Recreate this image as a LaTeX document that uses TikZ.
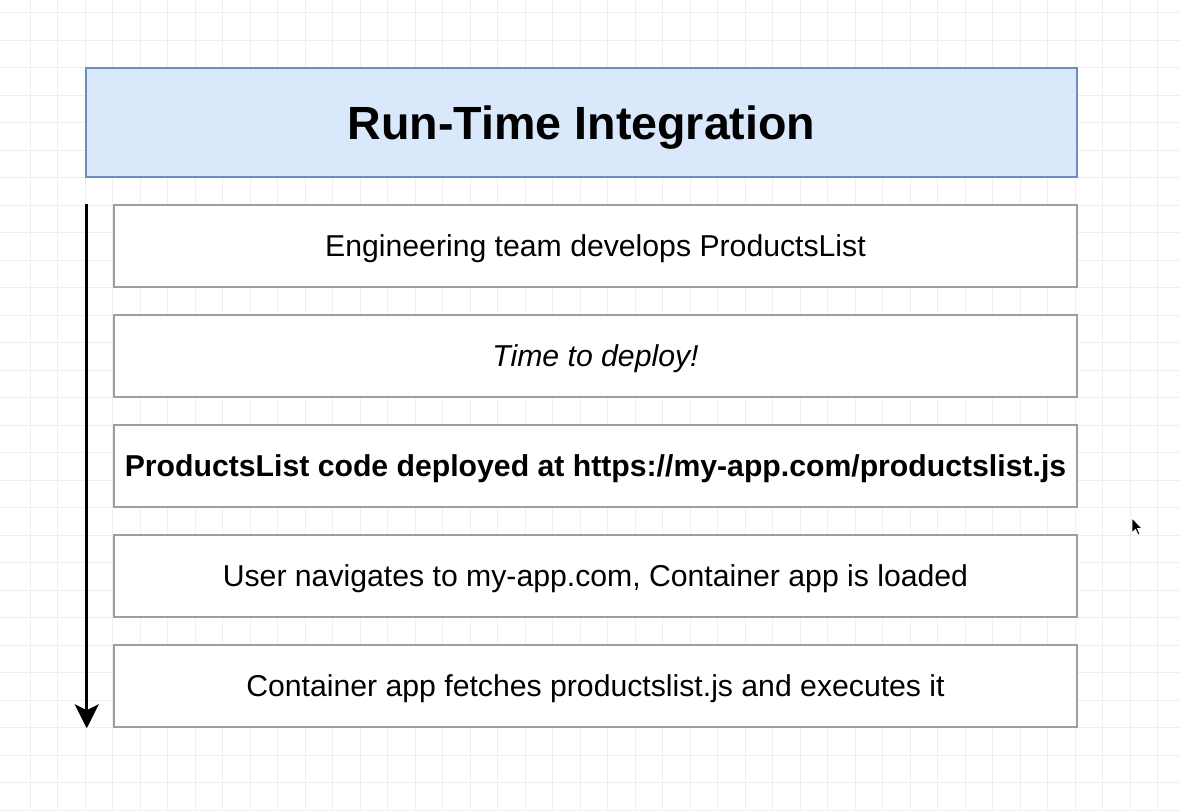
\documentclass[tikz,border=0pt]{standalone}
\usepackage{fontspec}
\setmainfont{Liberation Sans}
\usepackage{xcolor}
\usetikzlibrary{arrows.meta,positioning}
\definecolor{titlefill}{HTML}{DAE8FC}
\definecolor{titledraw}{HTML}{6C8EBF}
\definecolor{boxdraw}{HTML}{9E9E9E}
\definecolor{gridline}{HTML}{EEEEEE}
\tikzstyle{titre}=[draw=titledraw,fill=titlefill,line width=2.5pt,minimum width=991pt,minimum height=109pt,inner sep=0pt,text height=33.4pt,text depth=0pt,font=\fontsize{46.6}{52}\selectfont\bfseries]
\tikzstyle{etape}=[draw=boxdraw,fill=white,line width=2.5pt,minimum width=963pt,minimum height=82pt,inner sep=0pt,text height=21.6pt,text depth=0pt,font=\fontsize{30.2}{34}\selectfont]
\begin{document}
\begin{tikzpicture}[x=1pt,y=-1pt]
\useasboundingbox[fill=white] (0,0) rectangle (1179,811);
% background grid
\foreach \k in {0,...,42} \draw[gridline,line width=1pt] (30+27.5*\k,0) -- (30+27.5*\k,811);
\foreach \k in {-1,...,28} \draw[gridline,line width=1pt] (0,40+27.5*\k) -- (1179,40+27.5*\k);

\node[titre] (title) at (581.5,122.5) {Run-Time Integration};

\node[etape] (s1) at (595.5,246) {Engineering team develops ProductsList};
\node[etape,below=25.5pt of s1] (s2) {\itshape Time to deploy!};
\node[etape,below=25.5pt of s2] (s3) {\bfseries ProductsList code deployed at https://my-app.com/productslist.js};
\node[etape,below=25.5pt of s3] (s4) {User navigates to my-app.com, Container app is loaded};
\node[etape,below=25.5pt of s4] (s5) {Container app fetches productslist.js and executes it};

% time arrow
\coordinate[left=26pt of s1.north west] (t0);
\coordinate[left=26pt of s5.south west] (t1);
\draw[line width=3pt,-{Stealth[length=24pt,width=24pt,inset=6pt]}] (t0) -- (t1);

% mouse pointer
\filldraw[fill=black,draw=white,line width=0.8pt] (1132,518) -- (1132,533) -- (1135.5,529.5) -- (1138,535) -- (1140,534) -- (1137.5,528.5) -- (1142,528.5) -- cycle;
\end{tikzpicture}
\end{document}
